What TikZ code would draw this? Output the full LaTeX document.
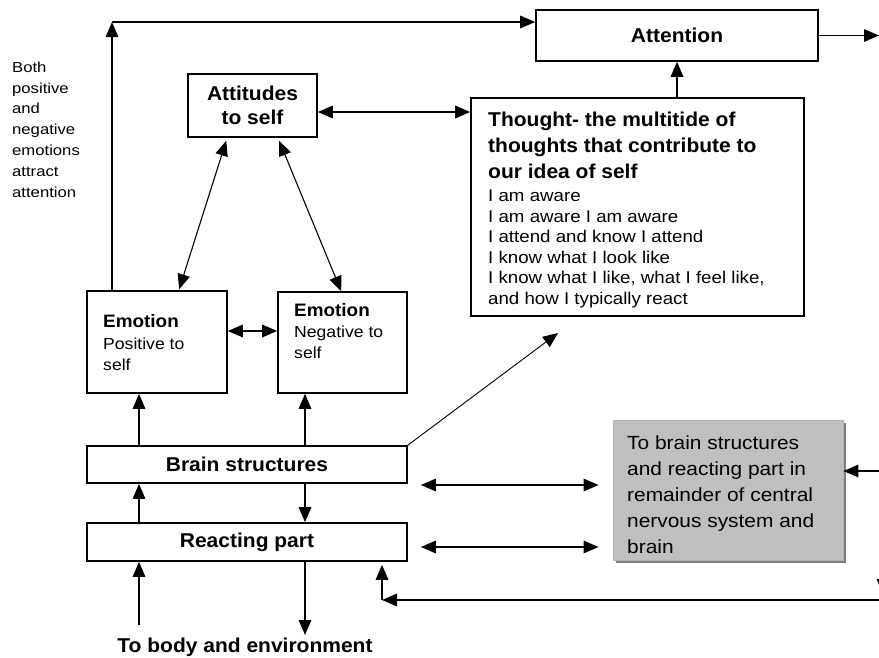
\documentclass[tikz,border=0pt]{standalone}
\usepackage{fontspec}
\setmainfont{Liberation Sans}[FakeStretch=1.1]
\newfontfamily\heavyface{Liberation Sans}[FakeStretch=1.05]
\newfontfamily\sideface{Liberation Sans}[FakeStretch=1.15]
\usetikzlibrary{arrows.meta,shadows}

\tikzset{
  box/.style={draw, line width=1.6pt, rectangle, inner sep=0pt},
  boldtext/.style={font=\heavyface\bfseries\fontsize{20}{24}\selectfont},
  textblock/.style={anchor=north west, inner sep=0pt, align=left},
  tip/.tip={Triangle[length=15pt,width=12.5pt]},
  link/.style={line width=1.5pt, -tip},
  both/.style={line width=1.5pt, tip-tip},
  graybox/.style={rectangle, fill=black!25, draw=black!30, line width=0.8pt,
    drop shadow={shadow xshift=3pt, shadow yshift=-3pt, fill=black!50, opacity=1}},
}

\begin{document}
\begin{tikzpicture}[x=1pt, y=-1pt]
\path[use as bounding box] (0,0) rectangle (879,657);
\fill[white] (0,0) rectangle (879,657);
\clip (0,0) rectangle (879,657);

% boxes
\node[box, boldtext, minimum width=282pt, minimum height=51pt] (attn) at (677,35.5) {Attention};
\node[box, boldtext, align=center, minimum width=129pt, minimum height=63pt] (att) at (252.5,105.5) {Attitudes\\to self};
\node[box, minimum width=333pt, minimum height=218pt] (thought) at (637.5,207) {};
\node[box, minimum width=140pt, minimum height=102pt] (emoP) at (157,342) {};
\node[box, minimum width=129pt, minimum height=101pt] (emoN) at (342.5,342.5) {};
\node[box, boldtext, minimum width=320pt, minimum height=37pt] (brain) at (247,464.5) {Brain structures};
\node[box, boldtext, minimum width=320pt, minimum height=38pt] (react) at (247,542) {Reacting part};
\node[graybox, minimum width=230pt, minimum height=140pt] (cns) at (728,490) {};

% texts inside and beside the boxes
\node[textblock, font=\heavyface\bfseries\fontsize{20}{26.3}\selectfont] (thoughthead) at (488,111.5)
  {Thought- the multitide of\\thoughts that contribute to\\our idea of self};
\node[textblock, font=\fontsize{17}{20.6}\selectfont] (thoughtlist) at (488,189.5)
  {I am aware\\I am aware I am aware\\I attend and know I attend\\I know what I look like\\I know what I like, what I feel like,\\and how I typically react};
\node[textblock, font=\fontsize{16}{21.5}\selectfont] (emoPtext) at (103,314.5)
  {{\heavyface\bfseries\fontsize{18}{21.5}\selectfont Emotion}\\Positive to\\self};
\node[textblock, font=\fontsize{16}{21}\selectfont] (emoNtext) at (294,303.5)
  {{\heavyface\bfseries\fontsize{18}{21}\selectfont Emotion}\\Negative to\\self};
\node[textblock, font=\fontsize{19}{25.8}\selectfont] (cnstext) at (627,436)
  {To brain structures\\and reacting part in\\remainder of central\\nervous system and\\brain};
\node[textblock, font=\sideface\fontsize{14.5}{20.8}\selectfont] (sidetext) at (12,61.5)
  {Both\\positive\\and\\negative\\emotions\\attract\\attention};
\node[anchor=base, inner sep=0pt, boldtext] (envtext) at (245,652.5) {To body and environment};

% connector end points
\coordinate (ctop) at (112,22);
\coordinate (attnout) at (879,35.5);
\coordinate (yat) at (0,112);
\coordinate (yemo) at (0,331);
\coordinate (xa) at (139,0);
\coordinate (xb) at (305,0);
\coordinate (bodyin) at (139,625);
\coordinate (bodyout) at (305,635);
\coordinate (thoughtin) at (558,333);
\coordinate (ybr) at (0,485);
\coordinate (yre) at (0,547);
\coordinate (rin) at (880,471);
\coordinate (rfb) at (880,600);
\coordinate (cfb) at (382,600);
\coordinate (rtop) at (883,560);
\coordinate (rdown) at (883,594);

% connectors
\draw[link] (ctop |- emoP.north) -- (ctop);
\draw[link] (ctop) -- (ctop -| attn.west);
\draw[link] (attn.east) -- (attnout);
\draw[link] (attn.south |- thought.north) -- (attn.south);
\draw[both] (att.east |- yat) -- (thought.west |- yat);
\draw[both, line width=1.1pt] ([xshift=39pt,yshift=-3pt]att.south west) -- ([xshift=93pt,yshift=1pt]emoP.north west);
\draw[both, line width=1.1pt] ([xshift=92pt,yshift=-3pt]att.south west) -- ([xshift=64pt]emoN.north west);
\draw[both] (emoP.east |- yemo) -- (emoN.west |- yemo);
\draw[link] (xa |- brain.north) -- (xa |- emoP.south);
\draw[link] (xb |- brain.north) -- (xb |- emoN.south);
\draw[link] (xa |- react.north) -- (xa |- brain.south);
\draw[link] (xb |- brain.south) -- (xb |- react.north);
\draw[link] (bodyin) -- (xa |- react.south);
\draw[link] (xb |- react.south) -- (bodyout);
\draw[link, line width=0.9pt] (brain.north east) -- (thoughtin);
\draw[both, shorten <=13pt, shorten >=14pt] (brain.east |- ybr) -- (cns.west |- ybr);
\draw[both, shorten <=13pt, shorten >=14pt] (react.east |- yre) -- (cns.west |- yre);
\draw[link] (rin) -- (cns.east |- rin);
\draw[link] (rfb) -- (cfb);
\draw[link, shorten >=3pt] (cfb) -- (cfb |- react.south);
\draw[link] (rtop) -- (rdown);
\end{tikzpicture}
\end{document}
